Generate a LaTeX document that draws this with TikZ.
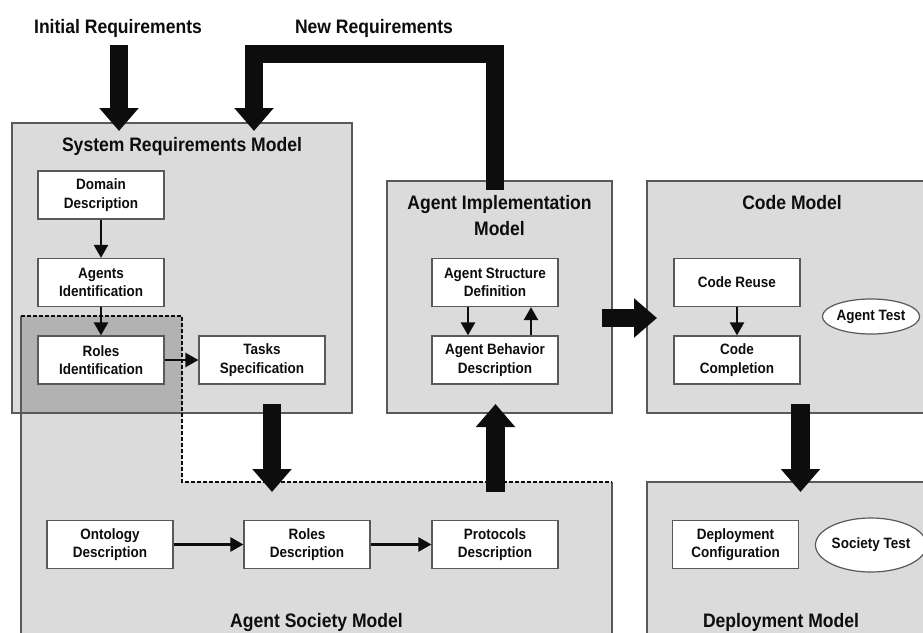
\documentclass[tikz,border=0pt]{standalone}
\usepackage{fontspec}
\setmainfont{Liberation Sans}[FakeStretch=0.9]
\usetikzlibrary{arrows.meta, positioning, shapes.geometric}
\definecolor{boxGray}{gray}{0.86}
\definecolor{darkGray}{gray}{0.70}
\definecolor{borderGray}{gray}{0.35}
\definecolor{mainBlack}{gray}{0.05}

\tikzset{
  modelbox/.style={fill=boxGray, draw=borderGray, line width=1.2pt},
  taskbox/.style={draw=borderGray, fill=white, line width=1.2pt, minimum width=126pt, minimum height=48pt, inner sep=0pt, align=center, font=\fontsize{15}{18.5}\selectfont\bfseries, text=mainBlack},
  testnode/.style={ellipse, draw=borderGray, fill=white, line width=1.2pt, inner sep=0pt, font=\fontsize{15}{18.5}\selectfont\bfseries, text=mainBlack},
  modeltitle/.style={inner sep=0pt, anchor=north, align=center, font=\fontsize{19.5}{26}\selectfont\bfseries, text=mainBlack},
  flow/.style={-{Triangle[length=13pt,width=14pt]}, line width=2.5pt, mainBlack},
  bigflow/.style={-{Triangle[length=23pt,width=38pt]}, line width=18.5pt, mainBlack},
}

\begin{document}
\begin{tikzpicture}[x=1pt, y=-1pt]
    \useasboundingbox (0,0) rectangle (923,632);
    \clip (0,0) rectangle (923,632);

    % Model boxes
    \fill[boxGray] (21,316) -- (182,316) -- (182,482) -- (612,482) -- (612,650) -- (21,650) -- cycle;
    \draw[modelbox] (12,123) rectangle (352,413);
    \fill[darkGray] (21,316) rectangle (182,413);
    \draw[borderGray, line width=1.2pt] (12,413) -- (352,413);
    \draw[borderGray, line width=1.2pt] (21,316) -- (21,650);
    \draw[borderGray, line width=1.2pt] (612,482) -- (612,650);
    \draw[mainBlack, line width=1.3pt, dash pattern=on 4pt off 2pt] (21,316) -- (182,316) -- (182,482) -- (612,482);
    \draw[modelbox] (387,181) rectangle (612,413);
    \draw[modelbox] (647,181) rectangle (937,413);
    \draw[modelbox] (647,482) rectangle (937,650);

    % Titles
    \node[modeltitle] (initreq) at (118,19) {Initial Requirements};
    \node[modeltitle] (newreq) at (374,19) {New Requirements};
    \node[modeltitle] (srm) at (182,137) {System Requirements Model};
    \node[modeltitle] (aim) at (499.5,195) {Agent Implementation\\Model};
    \node[modeltitle] (cm) at (792,195) {Code Model};
    \node[modeltitle] (asm) at (316.5,613) {Agent Society Model};
    \node[modeltitle] (dm) at (781,613) {Deployment Model};

    % Activities
    \node[taskbox] (dd) at (101,195) {Domain\\Description};
    \node[taskbox] (ai) at (101,282.5) {Agents\\Identification};
    \node[taskbox] (ri) at (101,360) {Roles\\Identification};
    \node[taskbox] (ts) at (262,360) {Tasks\\Specification};
    \node[taskbox] (asd) at (495,282.5) {Agent Structure\\Definition};
    \node[taskbox] (abd) at (495,360) {Agent Behavior\\Description};
    \node[taskbox] (cr) at (737,282.5) {Code Reuse};
    \node[taskbox] (cc) at (737,360) {Code\\Completion};
    \node[taskbox] (od) at (110,544.5) {Ontology\\Description};
    \node[taskbox] (rd) at (307,544.5) {Roles\\Description};
    \node[taskbox] (pd) at (495,544.5) {Protocols\\Description};
    \node[taskbox] (dc) at (735.5,544.5) {Deployment\\Configuration};
    \node[testnode, minimum width=90pt, minimum height=35pt] (at) at (871,316.5) {Agent Test};
    \node[testnode, minimum width=97pt, minimum height=54pt] (st) at (871,545) {Society Test};

    % Arrows
    \draw[flow] (dd) -- (ai); \draw[flow] (ai) -- (ri); \draw[flow] (ri) -- (ts);
    \draw[flow] ([xshift=-27pt]asd.south) -- ([xshift=-27pt]abd.north);
    \draw[flow] ([xshift=36pt]abd.north) -- ([xshift=36pt]asd.south);
    \draw[flow] (cr) -- (cc);
    \draw[flow] (od) -- (rd); \draw[flow] (rd) -- (pd);

    % Phase arrows
    \coordinate (initOut) at (119,45);   \coordinate (srmIn) at (119,131);
    \coordinate (newOut) at (495,190);   \coordinate (newIn) at (254,131);
    \coordinate (srmOut) at (272,404);   \coordinate (asmIn) at (272,492);
    \coordinate (asmOut) at (495.5,492); \coordinate (aimIn) at (495.5,404);
    \coordinate (aimOut) at (602,318);   \coordinate (cmIn) at (657,318);
    \coordinate (cmOut) at (800.5,404);  \coordinate (dmIn) at (800.5,492);
    \draw[bigflow] (initOut) -- (srmIn);
    \draw[bigflow] (newOut) |- (375,54) -| (newIn);
    \draw[bigflow] (srmOut) -- (asmIn);
    \draw[bigflow] (asmOut) -- (aimIn);
    \draw[bigflow] (aimOut) -- (cmIn);
    \draw[bigflow] (cmOut) -- (dmIn);
\end{tikzpicture}
\end{document}
